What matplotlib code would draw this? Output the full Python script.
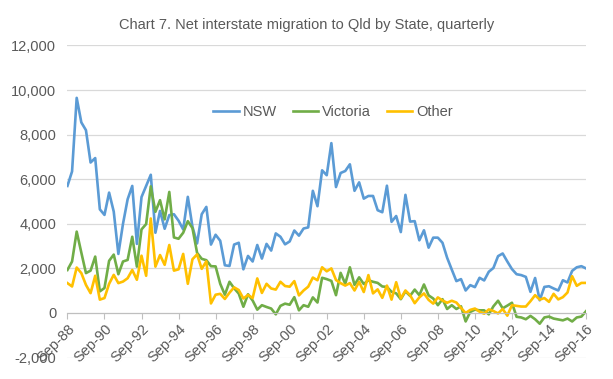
import numpy as np
import matplotlib
matplotlib.use('Agg')
import matplotlib.pyplot as plt
from matplotlib.ticker import FuncFormatter

plt.rcParams['font.family'] = ['Liberation Sans Narrow', 'Liberation Sans', 'DejaVu Sans']

# quarterly net interstate migration to Qld, Sep-88 .. Sep-16
nsw = [5700, 6350, 9650, 8550, 8200, 6750, 6950, 4650, 4400, 5400,
       4550, 2650, 4000, 5100, 5700, 3100, 5200, 5700, 6200, 3600,
       4580, 3780, 4390, 4430, 4140, 3750, 5210, 3870, 3120, 4430,
       4760, 3070, 3510, 3240, 2140, 2110, 3070, 3150, 1960, 2560,
       2310, 3050, 2440, 3100, 2800, 3570, 3420, 3080, 3210, 3700,
       3470, 3790, 3840, 5480, 4790, 6400, 6180, 7620, 5650, 6280,
       6370, 6670, 5480, 5860, 5130, 5250, 5250, 4610, 4520, 5710,
       4090, 4350, 3630, 5300, 4100, 4120, 3260, 3710, 2930, 3380,
       3380, 3150, 2480, 1950, 1430, 1520, 1010, 1250, 1160, 1580,
       1460, 1850, 2020, 2550, 2670, 2310, 1970, 1740, 1700, 1620,
       950, 1570, 570, 1170, 1200, 1100, 1010, 1470, 1370, 1890,
       2050, 2100, 2000]

victoria = [1930, 2310, 3650, 2710, 1790, 1900, 2530, 970, 1120, 2340,
            2620, 1740, 2310, 2380, 3420, 2080, 3750, 3990, 5680, 4540,
            5060, 4200, 5430, 3390, 3330, 3600, 4120, 3810, 2700, 2430,
            2370, 2100, 2090, 1310, 820, 1400, 1110, 870, 280, 840,
            560, 150, 350, 270, 200, -60, 320, 420, 370, 710,
            120, 350, 280, 700, 470, 1580, 1520, 1440, 800, 1800,
            1310, 2050, 1260, 1600, 1300, 1470, 1400, 1350, 1190, 1170,
            950, 880, 620, 970, 770, 1050, 800, 1280, 790, 650,
            350, 620, 180, 350, 180, 300, -380, 50, 150, 120,
            120, -60, 300, 550, 210, 330, 460, -170, -200, -280,
            -130, -280, -480, -200, -160, -250, -290, -330, -250, -380,
            -200, -160, 80]

other = [1340, 1190, 2040, 1790, 1260, 890, 1670, 600, 670, 1310,
         1710, 1340, 1410, 1560, 1930, 1490, 2570, 1670, 4240, 2080,
         2600, 2160, 3050, 1900, 1960, 2650, 1310, 2410, 2630, 1980,
         2320, 430, 820, 860, 630, 910, 1150, 1030, 650, 810,
         670, 1550, 900, 1310, 1100, 1050, 1400, 1210, 1180, 1430,
         790, 1010, 1180, 1590, 1470, 2050, 1870, 2000, 1480, 1340,
         1230, 1340, 1010, 1400, 940, 1700, 880, 1060, 680, 1230,
         600, 1380, 650, 1010, 800, 440, 700, 880, 590, 420,
         700, 560, 460, 550, 470, 230, 0, 140, 200, 60,
         -30, 160, 90, -20, 180, -120, 350, 320, 290, 290,
         530, 800, 600, 670, 500, 860, 610, 710, 920, 1650,
         1220, 1350, 1350]

tick_labels = ['Sep-88', 'Sep-90', 'Sep-92', 'Sep-94', 'Sep-96', 'Sep-98',
               'Sep-00', 'Sep-02', 'Sep-04', 'Sep-06', 'Sep-08', 'Sep-10',
               'Sep-12', 'Sep-14', 'Sep-16']

grey = '#595959'
x = np.arange(len(nsw))

fig = plt.figure(figsize=(6.13, 3.79), dpi=100)
ax = fig.add_axes([0.11, 0.0565, 0.846, 0.8235])

ax.plot(x, nsw, color='#5B9BD5', lw=1.9, label='NSW')
ax.plot(x, victoria, color='#70AD47', lw=1.9, label='Victoria')
ax.plot(x, other, color='#FFC000', lw=1.9, label='Other')

ax.set_xlim(0, len(nsw) - 1)
ax.set_ylim(-2000, 12000)
ax.set_yticks(np.arange(-2000, 12001, 2000))
ax.yaxis.set_major_formatter(FuncFormatter(lambda v, p: f'{int(v):,}'))
ax.grid(axis='y', color='#D9D9D9', lw=0.9)
ax.set_axisbelow(True)

for s in ['top', 'right', 'left']:
    ax.spines[s].set_visible(False)
ax.spines['bottom'].set_position(('data', 0))
ax.spines['bottom'].set_color('#BFBFBF')
ax.tick_params(axis='x', colors='#BFBFBF', length=4, labelcolor=grey,
               labelsize=10.5, pad=2)
ax.tick_params(axis='y', length=0, labelcolor=grey, labelsize=10.5, pad=8)

ax.set_xticks(np.arange(0, len(nsw), 8))
ax.set_xticklabels(tick_labels)
for lab in ax.get_xticklabels():
    lab.set_rotation(45)
    lab.set_ha('right')
    lab.set_va('top')
    lab.set_rotation_mode('anchor')

ax.legend(loc='center', bbox_to_anchor=(0.512, 0.787), ncol=3, frameon=False,
          fontsize=10.5, labelcolor=grey, handlelength=1.75, columnspacing=1.1,
          handletextpad=0.25)

fig.text(0.5, 0.935, 'Chart 7. Net interstate migration to Qld by State, quarterly',
         ha='center', va='center', fontsize=10.5, color=grey)

fig.savefig('out.png', dpi=100)
